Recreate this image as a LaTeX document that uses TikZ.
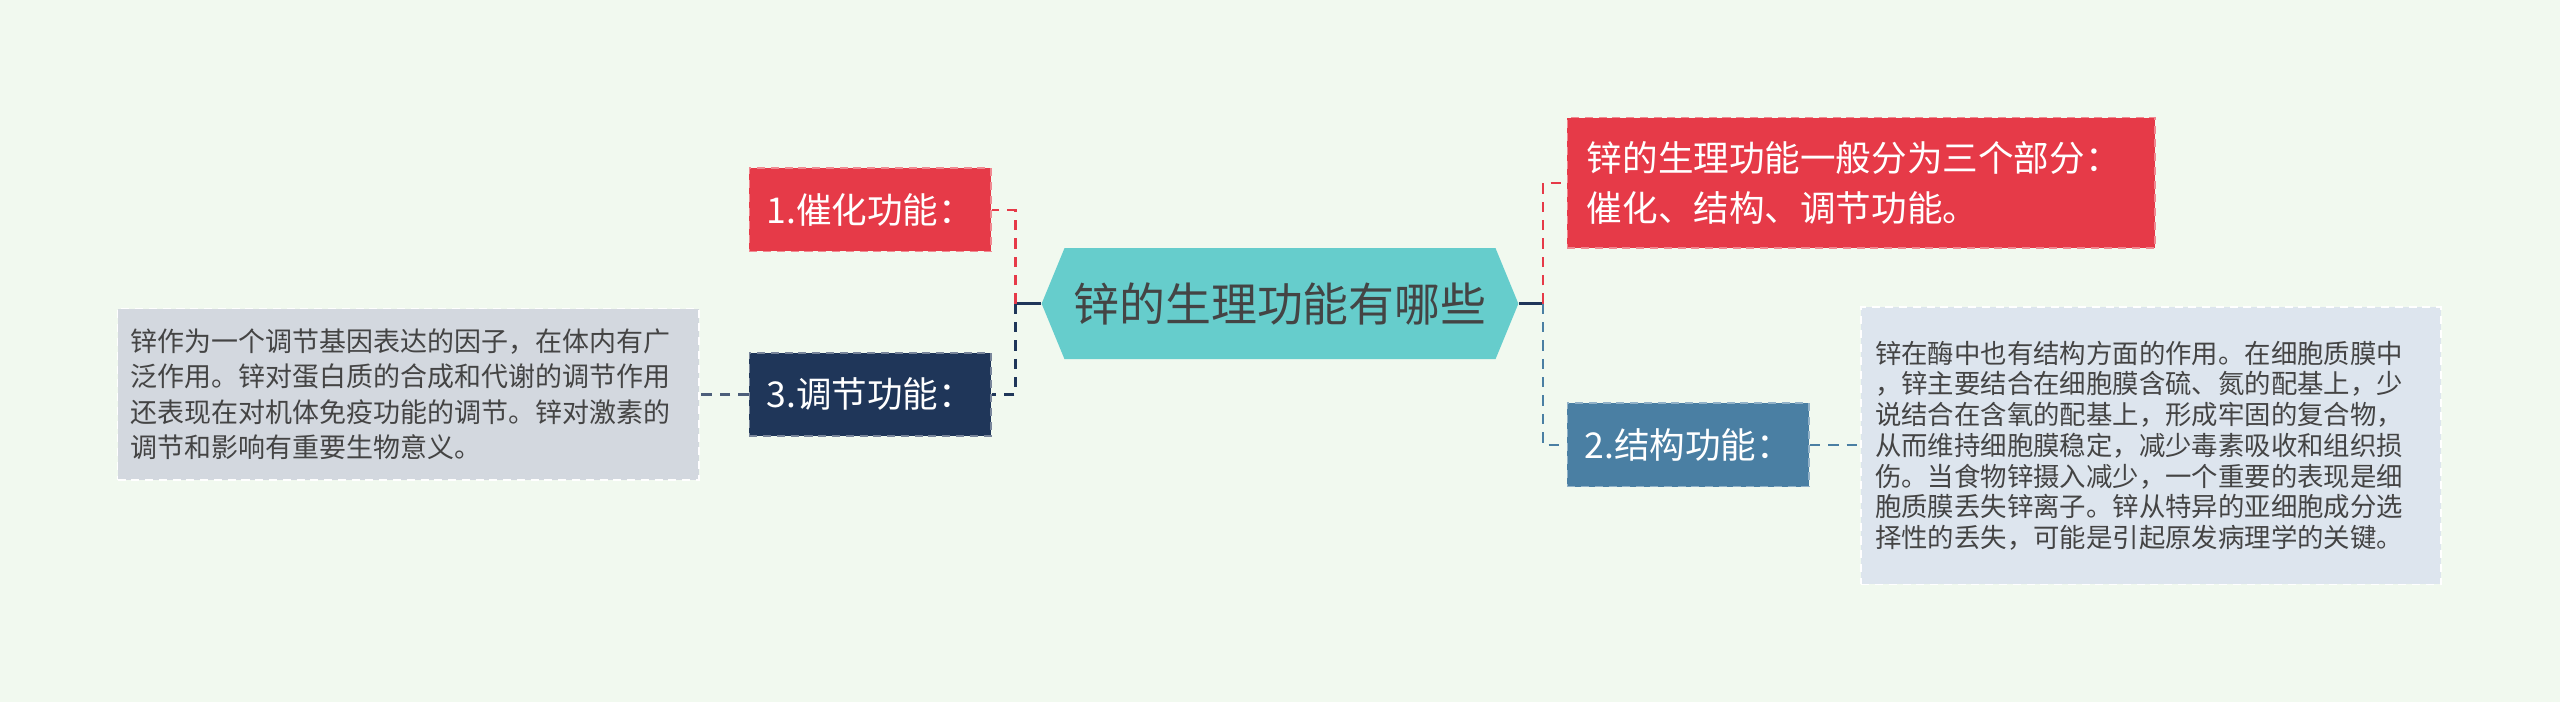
\documentclass[tikz,border=0pt]{standalone}
\usepackage{fontspec}
\setmainfont{Noto Sans CJK SC}
\definecolor{bg}{HTML}{F1F9EF}
\definecolor{cteal}{HTML}{66CDCC}
\definecolor{cred}{HTML}{E63A48}
\definecolor{cnavy}{HTML}{1F3659}
\definecolor{cblue}{HTML}{4A7FA3}
\definecolor{cgray}{HTML}{D3D8DF}
\definecolor{clight}{HTML}{DDE5EE}
\definecolor{ctext}{HTML}{444444}
\begin{document}
\begin{tikzpicture}[x=0.05cm,y=-0.05cm,
  box/.style={draw=#1!60!white,dash pattern=on 7pt off 5pt,line width=1.5pt,fill=#1,text=white,inner sep=0pt,font=\fontsize{31}{43}\selectfont},
  note/.style={draw=white,dash pattern=on 7pt off 5pt,line width=1.5pt,fill=#1,text=ctext,inner sep=0pt,align=left,font=\fontsize{23.5}{31}\selectfont},
  link/.style={draw=#1,dash pattern=on 9pt off 7pt,line width=2.2pt}]
\fill[bg] (0,0) rectangle (1568,430);
\useasboundingbox (0,0) rectangle (1568,430);
% center
\fill[cteal] (638,186) -- (652,152) -- (916,152) -- (930,186) -- (916,220) -- (652,220) -- cycle;
\node[text=ctext,font=\fontsize{40}{46}\selectfont,minimum width=292*0.05cm,minimum height=68*0.05cm,inner sep=0pt] (c) at (784,186) {锌的生理功能有哪些};
\node[box=cred,minimum width=148*0.05cm,minimum height=51*0.05cm] (a) at (533,128.5) {1.催化功能：};
\node[box=cnavy,minimum width=148*0.05cm,minimum height=51*0.05cm] (b) at (533,241.5) {3.调节功能：};
\node[box=cred,minimum width=360*0.05cm,minimum height=80*0.05cm,align=left,text width=336*0.05cm] (d) at (1140,112) {锌的生理功能一般分为三个部分：\\催化、结构、调节功能。};
\node[box=cblue,minimum width=148*0.05cm,minimum height=51*0.05cm] (e) at (1034,272.5) {2.结构功能：};
\node[note=cgray,minimum width=356*0.05cm,minimum height=105*0.05cm,text width=340*0.05cm] (g) at (250,241.5) {锌作为一个调节基因表达的因子，在体内有广\\泛作用。锌对蛋白质的合成和代谢的调节作用\\还表现在对机体免疫功能的调节。锌对激素的\\调节和影响有重要生物意义。};
\node[note=clight,minimum width=355*0.05cm,minimum height=170*0.05cm,text width=338*0.05cm,font=\fontsize{23}{26.8}\selectfont] (h) at (1317.5,273) {锌在酶中也有结构方面的作用。在细胞质膜中\\，锌主要结合在细胞膜含硫、氮的配基上，少\\说结合在含氧的配基上，形成牢固的复合物，\\从而维持细胞膜稳定，减少毒素吸收和组织损\\伤。当食物锌摄入减少，一个重要的表现是细\\胞质膜丢失锌离子。锌从特异的亚细胞成分选\\择性的丢失，可能是引起原发病理学的关键。};
% connectors
\coordinate (cl) at (622,186);
\coordinate (cr) at (945,186);
\draw[cnavy,line width=2.2pt] (c.west) -- (cl);
\draw[cnavy,line width=2.2pt] (c.east) -- (cr);
\draw[link=cred] (cl) |- (a.east);
\draw[link=cnavy] (cl) |- (b.east);
\draw[link=cred] (cr) |- (d.west);
\draw[link=cblue] (cr) |- (e.west);
\draw[link=cnavy!80] (b.west) -- (g.east);
\draw[link=cblue] (e.east) -- (h.west|-e.east);
\end{tikzpicture}
\end{document}
